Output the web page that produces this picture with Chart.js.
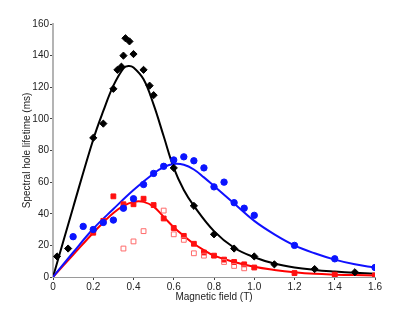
<!DOCTYPE html>
<html>
<head>
<meta charset="utf-8">
<script src="https://cdn.jsdelivr.net/npm/chart.js@4.4.1/dist/chart.umd.min.js"></script>
<style>
  html, body { margin: 0; padding: 0; background: #fff; }
  #wrap { width: 415px; height: 312px; position: relative; }
</style>
</head>
<body>
<div id="wrap"><canvas id="chart"></canvas></div>
<script>
// ===== DATA =====
const xTicks = [0, 0.2, 0.4, 0.6, 0.8, 1, 1.2, 1.4, 1.6];
const yTicks = [0, 20, 40, 60, 80, 100, 120, 140, 160];

// measured points
const blackX = [0.02, 0.075, 0.2, 0.25, 0.3, 0.32, 0.34, 0.35, 0.36, 0.38, 0.4, 0.45, 0.48, 0.5, 0.6, 0.7, 0.8, 0.9, 1.0, 1.1, 1.3, 1.5];
const blackY = [13, 18, 88, 97, 119, 131, 133, 140, 151, 149, 141, 131, 121, 115, 69, 45, 27, 18, 13, 8, 5, 3];
const blueX = [0.1, 0.15, 0.2, 0.25, 0.3, 0.35, 0.4, 0.45, 0.5, 0.55, 0.6, 0.65, 0.7, 0.75, 0.8, 0.85, 0.9, 0.95, 1.0, 1.2, 1.4, 1.6];
const blueY = [25.5, 32, 30, 34.5, 36, 43.5, 49.5, 58.5, 65.5, 70, 74, 76, 73.5, 69, 57, 60, 47, 43.5, 39, 20, 11.5, 6];
const redX = [0.2, 0.25, 0.3, 0.35, 0.4, 0.45, 0.5, 0.55, 0.6, 0.65, 0.7, 0.75, 0.8, 0.85, 0.9, 0.95, 1.0, 1.2, 1.4, 1.6];
const redY = [28, 35.5, 51, 46, 46, 49.5, 45.5, 37, 31, 26, 21, 15.5, 13.5, 11, 9.5, 8, 6, 2.5, 1.5, 1];
const openX = [0.35, 0.4, 0.45, 0.55, 0.6, 0.65, 0.7, 0.75, 0.85, 0.9, 0.95];
const openY = [18, 22.5, 29, 42, 27, 23.5, 15, 13.5, 9.5, 7, 5.5];

// fitted curves
const blackFitX = [0, 0.1, 0.2, 0.25, 0.3, 0.35, 0.375, 0.4, 0.45, 0.5, 0.55, 0.6, 0.65, 0.7, 0.8, 0.9, 1.0, 1.1, 1.2, 1.3, 1.4, 1.5, 1.6];
const blackFitY = [0, 44, 87, 105, 121, 132, 133.5, 132.5, 125, 109, 89, 69, 55, 45, 29, 18.5, 12.5, 8.5, 6, 4.5, 3.5, 2.7, 2];
const blueFitX = [0, 0.1, 0.2, 0.3, 0.4, 0.5, 0.55, 0.6, 0.65, 0.7, 0.75, 0.8, 0.9, 1.0, 1.1, 1.2, 1.3, 1.4, 1.5, 1.6];
const blueFitY = [0, 15.5, 30.5, 43, 55, 65.5, 69.5, 71.5, 71, 68, 63, 57.5, 46.5, 35.5, 27, 20, 15, 11, 8, 6];
const redFitX = [0, 0.1, 0.2, 0.25, 0.3, 0.35, 0.4, 0.45, 0.5, 0.55, 0.6, 0.65, 0.7, 0.75, 0.8, 0.9, 1.0, 1.1, 1.2, 1.3, 1.4, 1.5, 1.6];
const redFitY = [0, 14, 28, 34.5, 40.5, 45, 47.5, 47.5, 44.5, 38, 31.5, 26, 21, 17, 13.5, 9.5, 6.5, 4.5, 3, 2, 1.5, 1.2, 1];

const pts = (xs, ys) => xs.map((x, i) => ({ x, y: ys[i] }));
const FONT = { family: 'Liberation Sans, Arial, sans-serif', size: 10 };

function fitLine(xs, ys, color) {
  return { type: 'line', data: pts(xs, ys), borderColor: color, borderWidth: 2, pointRadius: 0, tension: 0.4, fill: false, order: 2 };
}
function marks(xs, ys, style, r, bg, border) {
  return { type: 'scatter', data: pts(xs, ys), pointStyle: style, pointRadius: r, pointHoverRadius: r,
    backgroundColor: bg, borderColor: border || bg, pointBorderWidth: 1, order: 1 };
}

new Chart(document.getElementById('chart'), {
  type: 'scatter',
  data: {
    datasets: [
      marks(openX, openY, 'rect', 3.4, 'rgba(255,255,255,0)', '#ff6a6a'),
      marks(blueX, blueY, 'circle', 3.2, '#0a14ff'),
      marks(redX, redY, 'rect', 3.4, '#ff1010'),
      marks(blackX, blackY, 'rectRot', 3.6, '#000'),
      fitLine(blueFitX, blueFitY, '#1010ff'),
      fitLine(redFitX, redFitY, '#ff0000'),
      fitLine(blackFitX, blackFitY, '#000')
    ]
  },
  options: {
    responsive: true,
    maintainAspectRatio: false,
    animation: false,
    layout: { padding: { top: 24, right: 40, left: 17, bottom: 0 } },
    plugins: { legend: { display: false }, tooltip: { enabled: false } },
    scales: {
      x: {
        type: 'linear', min: 0, max: 1.6,
        afterBuildTicks: s => { s.ticks = xTicks.map(v => ({ value: v })); },
        afterFit: s => { s.height = 35; },
        grid: { drawOnChartArea: false, tickLength: 3, color: '#444' },
        border: { color: '#9a9a9a', width: 1 },
        ticks: { font: FONT, color: '#222', padding: 1, maxRotation: 0 },
        title: { display: true, text: 'Magnetic field (T)', font: FONT, color: '#222', padding: { top: 0, bottom: 9 } }
      },
      y: {
        type: 'linear', min: 0, max: 160,
        afterBuildTicks: s => { s.ticks = yTicks.map(v => ({ value: v })); },
        afterFit: s => { s.width = 36; },
        grid: { drawOnChartArea: false, tickLength: 3, color: '#444' },
        border: { color: '#b4b4b4', width: 2 },
        ticks: { font: FONT, color: '#222', padding: 1 },
        title: { display: true, text: 'Spectral hole lifetime (ms)', font: FONT, color: '#222', padding: { top: 4, bottom: 0 } }
      }
    }
  }
});
</script>
</body>
</html>
